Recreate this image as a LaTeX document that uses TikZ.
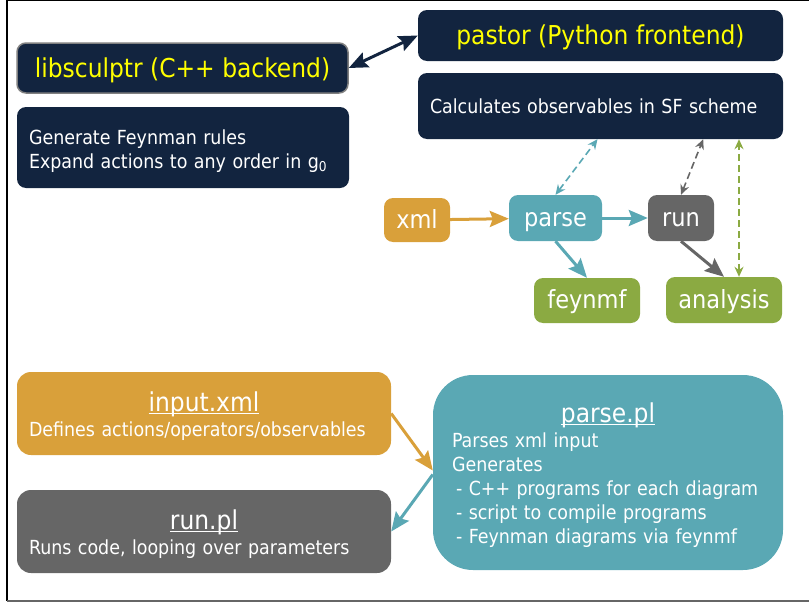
\documentclass[tikz,border=0pt]{standalone}
\usepackage{fontspec}
\setmainfont{DejaVu Sans Condensed}
\usepackage{tikz}
\usetikzlibrary{arrows.meta}

\definecolor{navy}{HTML}{12243F}
\definecolor{amber}{HTML}{D9A03A}
\definecolor{sea}{HTML}{5AA8B4}
\definecolor{slate}{HTML}{666666}
\definecolor{leaf}{HTML}{8BAA42}
\definecolor{lemon}{HTML}{FFFF00}

\newcommand{\bigfs}{\fontsize{26}{30}\selectfont}
\newcommand{\midfs}{\fontsize{25}{30}\selectfont}
\newcommand{\smallfs}{\fontsize{19.4}{24}\selectfont}
% underline that sits just under the baseline
\newcommand{\ulined}[1]{\setbox0=\hbox{#1}\rlap{\copy0}\rule[-2.5pt]{\wd0}{1.2pt}}
\newcommand{\headline}[2]{\makebox[#1]{\rule{0pt}{25pt}\bigfs\ulined{#2}}}

\tikzset{
  box/.style={rounded corners=9pt, inner sep=0pt, text=white, font=\midfs},
  tag/.style={box, text height=18pt, text depth=2pt},
  title/.style={box, font=\bigfs, text=lemon, text height=20pt, text depth=1pt},
  textbox/.style={box, align=left, font=\smallfs},
  flow/.style={line width=3pt, -{Stealth[length=19pt,width=16pt,inset=3pt]}},
  link/.style={line width=1.6pt, dash pattern=on 7pt off 4pt, {Stealth[length=10pt,width=9pt]}-{Stealth[length=10pt,width=9pt]}}
}

\begin{document}
\begin{tikzpicture}[x=1pt,y=-1pt]
\useasboundingbox (0,0) rectangle (809,605);
\draw[line width=1.2pt] (809,0.6) -- (7,0.6) -- (7,601);
\draw[line width=2pt, slate] (7,601) -- (809,601);

% libraries
\node (libs) at (182.5,68) [title, fill=navy, draw=gray, line width=1.5pt, minimum width=331pt, minimum height=50pt] {libsculptr (C++ backend)};
\node (gen) at (183,147.5) [textbox, fill=navy, text width=308pt, inner xsep=12pt, minimum height=81pt] {\rule{0pt}{22pt}Generate Feynman rules\\Expand actions to any order in g\textsubscript{0}};
\node (pastor) at (600.5,35.5) [title, fill=navy, minimum width=365pt, minimum height=51pt] {pastor (Python frontend)};
\node (calc) at (600.5,106) [textbox, fill=navy, text width=341pt, inner xsep=12pt, minimum height=66pt] {Calculates observables in SF scheme};

% workflow
\node (xml) at (417,220) [tag, fill=amber, minimum width=66pt, minimum height=44pt] {xml};
\node (parse) at (555.5,218) [tag, fill=sea, minimum width=93pt, minimum height=46pt] {parse};
\node (run) at (681,218) [tag, fill=slate, minimum width=66pt, minimum height=46pt] {run};
\node (feynmf) at (587,300.5) [tag, fill=leaf, minimum width=106pt, minimum height=45pt] {feynmf};
\node (analysis) at (724,300) [tag, fill=leaf, minimum width=116pt, minimum height=46pt] {analysis};

% scripts
\node (input) at (204,413.5) [textbox, fill=amber, rounded corners=14pt, text width=350pt, inner xsep=12pt, minimum height=83pt]
  {\headline{350pt}{input.xml}\\[1pt]Defines actions/operators/observables};
\node (runpl) at (204,531.5) [textbox, fill=slate, rounded corners=14pt, text width=350pt, inner xsep=12pt, minimum height=83pt]
  {\headline{350pt}{run.pl}\\[1pt]Runs code, looping over parameters};
\node (parsepl) at (608,472.5) [textbox, fill=sea, rounded corners=40pt, text width=312pt, inner xsep=19pt, minimum height=195pt]
  {\headline{312pt}{parse.pl}\\[1pt]Parses xml input\\Generates\\
   \hspace*{4pt}- C++ programs for each diagram\\
   \hspace*{4pt}- script to compile programs\\
   \hspace*{4pt}- Feynman diagrams via feynmf};

\draw[navy, line width=3pt, {Stealth[length=19pt,width=16pt,inset=3pt]}-{Stealth[length=19pt,width=16pt,inset=3pt]}] (libs.east) -- (pastor.west);

\draw[link, sea] (parse.north) -- ([xshift=-3pt]calc.south);
\draw[link, slate] (run.north) -- ([xshift=-80pt]calc.south east);
\draw[link, leaf] ([xshift=15pt]analysis.north) -- ([xshift=15pt]analysis.north |- calc.south);

\draw[flow, amber] (xml) -- (parse);
\draw[flow, sea] (parse) -- (run);
\draw[flow, sea] (parse.south) -- (feynmf.north);
\draw[flow, slate] (run.south) -- (analysis.north);
\draw[flow, amber] (input.east) -- ([yshift=2pt]parsepl.west);
\draw[flow, sea] ([yshift=-2pt]parsepl.west) -- (runpl.east);
\end{tikzpicture}
\end{document}
